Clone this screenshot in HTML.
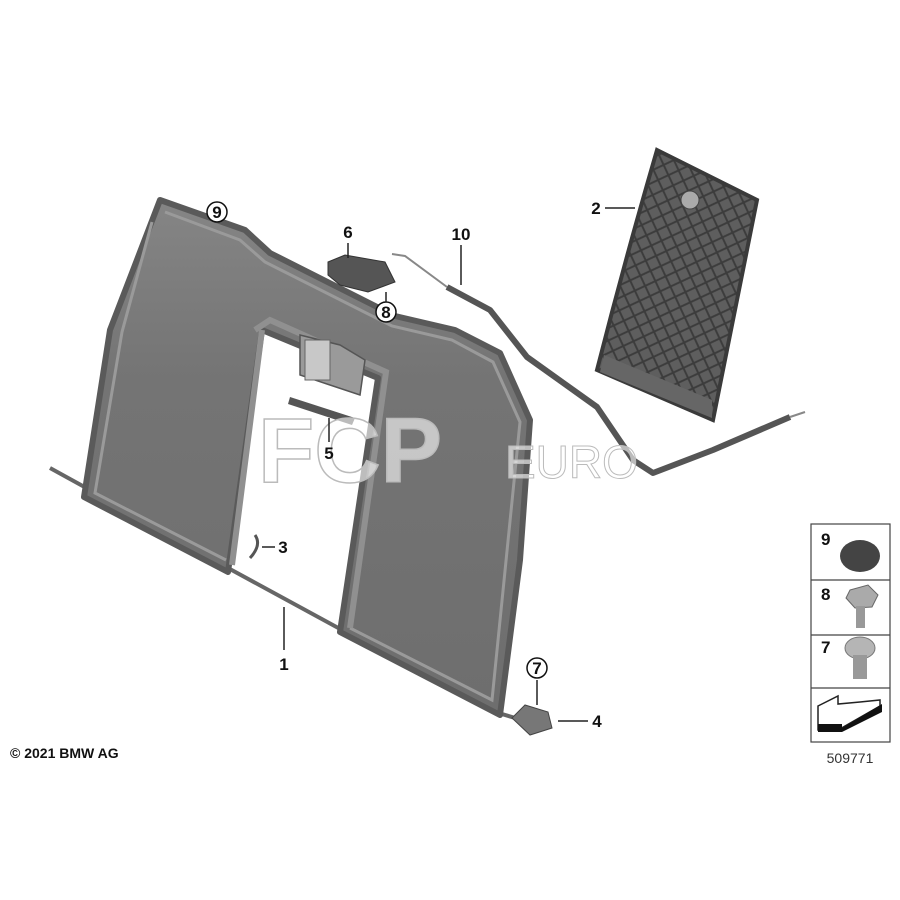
<!DOCTYPE html>
<html><head><meta charset="utf-8"><style>
html,body{margin:0;padding:0;background:#fff;}
svg{display:block;font-family:"Liberation Sans",Arial,sans-serif;}
.lb{font-size:17px;font-weight:bold;fill:#111;}
.ln{stroke:#222;stroke-width:1.5;fill:none;}
</style></head><body>
<svg width="900" height="900" viewBox="0 0 900 900" xmlns="http://www.w3.org/2000/svg">
<defs>
<linearGradient id="pg" x1="0" y1="0" x2="0" y2="1">
<stop offset="0" stop-color="#858585"/><stop offset="0.35" stop-color="#747474"/><stop offset="1" stop-color="#6e6e6e"/>
</linearGradient>
<pattern id="hatch" width="16" height="16" patternUnits="userSpaceOnUse" patternTransform="rotate(20)">
<rect width="16" height="16" fill="#5e5e5e"/>
<path d="M0 0L16 16M16 0L0 16" stroke="#3c3c3c" stroke-width="2"/>
</pattern>
</defs>
<!-- cross bar -->
<path d="M228 568 L342 630" stroke="#666" stroke-width="4"/>
<path d="M50 468 L90 490 M495 712 L522 720" stroke="#666" stroke-width="4"/>
<!-- frame -->
<path d="M160 200 L245 230 L270 253 L395 316 L455 330 L500 353 L530 420 L520 560 L500 715 L340 632 L378 378 L262 330 L228 572 L84 497 L110 330 Z" fill="url(#pg)" stroke="#5a5a5a" stroke-width="6" stroke-linejoin="round"/>
<path d="M165 212 L240 240 L265 262 L392 326 L452 340 L493 362 L520 422 L492 700 L350 628 M226 560 L95 493 L122 332 L152 222" fill="none" stroke="#9a9a9a" stroke-width="3"/>
<path d="M255 330 L270 320 L386 372 L350 628 M262 330 L232 565" fill="none" stroke="#909090" stroke-width="6"/>
<!-- center bracket -->
<path d="M300 335 L340 345 L365 360 L360 395 L330 385 L300 375 Z" fill="#9a9a9a" stroke="#555" stroke-width="1.5"/>
<rect x="305" y="340" width="25" height="40" fill="#c8c8c8" stroke="#666"/>
<!-- part 5 -->
<path d="M290 397 L355 418 L352 425 L288 404 Z" fill="#555"/>
<!-- part 3 -->
<path d="M255 535 Q262 545 250 558" stroke="#555" stroke-width="3" fill="none"/>
<!-- part 6 -->
<path d="M328 262 L345 255 L385 262 L395 282 L368 292 L340 285 L328 275 Z" fill="#555" stroke="#333"/>
<!-- cable 10 -->
<path d="M392 254 L405 256 L447 287" stroke="#888" stroke-width="2" fill="none"/>
<path d="M447 287 L490 310 L527 357 L597 407 L633 460 L653 473 L713 450 L790 417" stroke="#555" stroke-width="6" fill="none" stroke-linejoin="round"/>
<path d="M790 417 L805 412" stroke="#888" stroke-width="2"/>
<!-- part 2 -->
<path d="M657 150 L757 200 L713 420 L597 370 Q625 260 657 150 Z" fill="url(#hatch)" stroke="#3a3a3a" stroke-width="4"/>
<path d="M600 372 L712 418 L712 400 L604 355 Z" fill="#666"/>
<circle cx="690" cy="200" r="9" fill="#aaa" stroke="#444"/>
<!-- part 4 -->
<path d="M512 718 L525 705 L548 712 L552 728 L530 735 Z" fill="#777" stroke="#444"/>
<!-- watermark -->
<text x="258" y="482" font-size="92" font-weight="bold" fill="#fff" fill-opacity="0.6" stroke="#bbb" stroke-width="1.5">FCP</text>
<text x="505" y="478" font-size="46" fill="#fff" fill-opacity="0.6" stroke="#bbb" stroke-width="1">EURO</text>
<!-- labels -->
<circle cx="217" cy="212" r="10" fill="#fff" stroke="#111" stroke-width="1.5"/><text x="217" y="218" class="lb" text-anchor="middle" font-size="14">9</text>
<text x="348" y="238" class="lb" text-anchor="middle">6</text><path class="ln" d="M348 243 L348 258"/>
<text x="461" y="240" class="lb" text-anchor="middle">10</text><path class="ln" d="M461 245 L461 285"/>
<text x="596" y="214" class="lb" text-anchor="middle">2</text><path class="ln" d="M605 208 L635 208"/>
<circle cx="386" cy="312" r="10" fill="#fff" stroke="#111" stroke-width="1.5"/><text x="386" y="318" class="lb" text-anchor="middle" font-size="14">8</text><path class="ln" d="M386 292 L386 302"/>
<text x="329" y="459" class="lb" text-anchor="middle">5</text><path class="ln" d="M329 418 L329 442"/>
<text x="283" y="553" class="lb" text-anchor="middle">3</text><path class="ln" d="M262 547 L275 547"/>
<text x="284" y="670" class="lb" text-anchor="middle">1</text><path class="ln" d="M284 607 L284 650"/>
<circle cx="537" cy="668" r="10" fill="#fff" stroke="#111" stroke-width="1.5"/><text x="537" y="674" class="lb" text-anchor="middle" font-size="14">7</text><path class="ln" d="M537 680 L537 705"/>
<text x="597" y="727" class="lb" text-anchor="middle">4</text><path class="ln" d="M558 721 L588 721"/>
<text x="10" y="758" font-size="14" font-weight="bold" fill="#111">© 2021 BMW AG</text>
<!-- legend -->
<g stroke="#444" stroke-width="1.2" fill="none">
<rect x="811" y="524" width="79" height="218"/>
<path d="M811 580 H890 M811 635 H890 M811 688 H890"/>
</g>
<text x="821" y="545" class="lb">9</text>
<ellipse cx="860" cy="556" rx="20" ry="16" fill="#444"/>
<text x="821" y="600" class="lb">8</text>
<polygon points="850,590 868,585 878,595 872,607 855,608 846,598" fill="#aaa" stroke="#666"/>
<rect x="856" y="606" width="9" height="22" fill="#999"/>
<text x="821" y="653" class="lb">7</text>
<ellipse cx="860" cy="648" rx="15" ry="11" fill="#b5b5b5" stroke="#777"/>
<rect x="853" y="655" width="14" height="24" fill="#999"/>
<path d="M818 706 L838 696 L838 704 L860 702 L880 700 L880 706 L838 730 L818 730 Z" fill="#fff" stroke="#222" stroke-width="1.5"/>
<path d="M818 724 L842 724 L842 732 L818 732 Z M842 728 L882 704 L882 712 L842 732 Z" fill="#111"/>
<text x="850" y="763" font-size="14" fill="#333" text-anchor="middle">509771</text>
</svg>
</body></html>
